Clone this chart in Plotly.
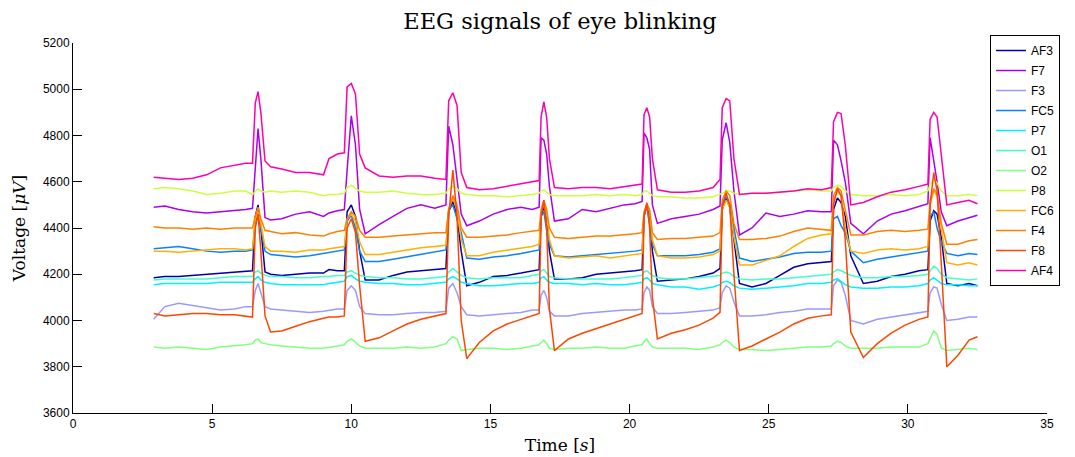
import plotly.graph_objects as go

# ---------------- data ----------------
time_s = [2.9, 3.3, 3.8, 4.3, 4.8, 5.3, 5.8, 6.2, 6.45,
          6.55, 6.65, 6.75, 6.9, 7.1,
          7.5, 8.0, 8.5, 9.0, 9.2, 9.5, 9.75,
          9.85, 10.0, 10.15, 10.3, 10.5,
          11.0, 11.5, 12.0, 12.5, 13.0, 13.4,
          13.5, 13.65, 13.8, 13.95, 14.15,
          14.6, 15.1, 15.6, 16.1, 16.5, 16.75,
          16.82, 16.92, 17.02, 17.12, 17.3,
          17.8, 18.3, 18.8, 19.3, 19.8, 20.2, 20.45,
          20.52, 20.62, 20.72, 20.82, 21.0,
          21.5, 22.0, 22.5, 23.0, 23.25,
          23.33, 23.47, 23.6, 23.75, 23.95,
          24.4, 24.9, 25.4, 25.9, 26.4, 26.9, 27.25,
          27.33, 27.47, 27.6, 27.75, 27.95,
          28.4, 28.9, 29.4, 29.9, 30.4, 30.72,
          30.8, 30.93, 31.05, 31.2, 31.4,
          31.8, 32.2, 32.5]

AF3 = [4185, 4190, 4190, 4195, 4200, 4205, 4210, 4215, 4215,
       4450, 4500, 4400, 4210, 4200,
       4195, 4200, 4205, 4205, 4220, 4215, 4215,
       4470, 4500, 4450, 4300, 4175,
       4175, 4195, 4210, 4215, 4220, 4225,
       4470, 4515, 4450, 4300, 4150,
       4165, 4190, 4195, 4205, 4215, 4220,
       4450, 4490, 4450, 4300, 4180,
       4180, 4185, 4200, 4205, 4210, 4215, 4220,
       4450, 4500, 4450, 4300, 4170,
       4175, 4180, 4190, 4205, 4225,
       4480, 4530, 4490, 4350, 4160,
       4145, 4160, 4195, 4230, 4245, 4250, 4255,
       4480, 4530, 4510, 4450, 4280,
       4160, 4170, 4190, 4200, 4215, 4220,
       4430, 4475, 4460, 4360, 4160,
       4150, 4160, 4150]

F7 = [4490, 4495, 4480, 4470, 4465, 4470, 4475, 4480, 4485,
      4650, 4830, 4700, 4445, 4435,
      4440, 4460, 4470, 4450, 4465, 4475, 4480,
      4650, 4885, 4760, 4480, 4375,
      4415, 4450, 4485, 4500, 4485, 4500,
      4840, 4760, 4600, 4460, 4410,
      4430, 4460, 4480, 4490, 4480, 4490,
      4790, 4780, 4720, 4580, 4430,
      4440, 4480, 4470, 4485, 4500, 4505, 4515,
      4810, 4790, 4740, 4500, 4420,
      4440, 4450, 4460, 4480, 4495,
      4780, 4855, 4770, 4560, 4370,
      4400, 4465, 4450, 4460, 4475, 4470, 4470,
      4780, 4760, 4690, 4600, 4420,
      4375, 4430, 4460, 4475, 4495, 4505,
      4790, 4700, 4600, 4470, 4410,
      4430, 4445, 4455]

F3 = [4005, 4060, 4075, 4065, 4055, 4045, 4050, 4060, 4060,
      4130, 4160, 4120, 4060, 4050,
      4045, 4040, 4035, 4040, 4045, 4050, 4050,
      4130, 4150, 4130, 4060, 4030,
      4025, 4025, 4030, 4035, 4035, 4040,
      4140, 4160, 4120, 4060, 4025,
      4020, 4025, 4030, 4035, 4045, 4045,
      4110, 4130, 4100, 4040, 4020,
      4020, 4030, 4035, 4040, 4045, 4045, 4050,
      4120, 4145, 4130, 4060, 4030,
      4030, 4035, 4040, 4045, 4055,
      4120, 4150, 4140, 4080, 4020,
      4020, 4025, 4035, 4040, 4050, 4050, 4050,
      4150, 4175, 4165, 4110, 4000,
      3985, 4005, 4015, 4025, 4035, 4040,
      4120, 4145, 4140, 4070, 4000,
      4005, 4015, 4015]

FC5 = [4310, 4315, 4320, 4310, 4300, 4295, 4300, 4300, 4305,
       4420, 4460, 4400, 4300, 4285,
       4280, 4275, 4280, 4290, 4295, 4300, 4305,
       4430, 4455, 4400, 4300, 4255,
       4255, 4265, 4275, 4285, 4295, 4305,
       4480, 4500, 4440, 4380, 4270,
       4265, 4275, 4280, 4290, 4300, 4305,
       4450, 4470, 4390, 4330, 4280,
       4275, 4280, 4285, 4290, 4295, 4300, 4305,
       4460, 4490, 4420, 4330, 4280,
       4280, 4280, 4285, 4295, 4310,
       4500, 4535, 4500, 4400, 4270,
       4255, 4265, 4275, 4290, 4295, 4295, 4300,
       4440, 4450, 4410, 4380, 4300,
       4250, 4265, 4275, 4285, 4295, 4300,
       4450, 4470, 4400, 4340, 4290,
       4280, 4290, 4285]

P7 = [4155, 4160, 4160, 4160, 4160, 4165, 4165, 4165, 4165,
      4180, 4190, 4175, 4165, 4160,
      4155, 4155, 4155, 4155, 4160, 4165, 4170,
      4190, 4195, 4180, 4170, 4165,
      4160, 4160, 4155, 4155, 4160, 4165,
      4180, 4190, 4180, 4165, 4160,
      4150, 4150, 4155, 4160, 4160, 4165,
      4185, 4190, 4175, 4165, 4160,
      4160, 4155, 4160, 4155, 4155, 4160, 4165,
      4180, 4185, 4175, 4160, 4155,
      4145, 4145, 4135, 4145, 4155,
      4165, 4170, 4165, 4150, 4140,
      4135, 4140, 4145, 4150, 4160, 4160, 4165,
      4175, 4180, 4170, 4155, 4145,
      4140, 4140, 4145, 4145, 4150, 4160,
      4175, 4185, 4175, 4160, 4155,
      4155, 4150, 4150]

O1 = [4175, 4180, 4180, 4180, 4180, 4185, 4190, 4190, 4190,
      4210, 4215, 4205, 4195, 4190,
      4190, 4185, 4185, 4190, 4190, 4195, 4195,
      4210, 4215, 4205, 4195, 4190,
      4185, 4185, 4180, 4180, 4185, 4190,
      4210, 4225, 4210, 4195, 4185,
      4180, 4185, 4185, 4185, 4195, 4200,
      4215, 4220, 4205, 4190, 4185,
      4180, 4180, 4180, 4180, 4185, 4190, 4195,
      4210, 4215, 4205, 4195, 4185,
      4180, 4180, 4185, 4190, 4195,
      4205, 4210, 4205, 4190, 4180,
      4175, 4180, 4180, 4185, 4190, 4195, 4200,
      4210, 4220, 4215, 4205, 4195,
      4185, 4185, 4190, 4190, 4195, 4200,
      4215, 4235, 4225, 4200, 4185,
      4180, 4175, 4180]

O2 = [3885, 3880, 3885, 3880, 3875, 3885, 3890, 3895, 3900,
      3915, 3920, 3905, 3900, 3895,
      3890, 3885, 3880, 3880, 3885, 3890, 3895,
      3910, 3920, 3905, 3890, 3880,
      3880, 3880, 3885, 3880, 3885, 3900,
      3915, 3930, 3920, 3870, 3875,
      3880, 3880, 3875, 3880, 3890, 3895,
      3905, 3915, 3900, 3880, 3875,
      3880, 3880, 3885, 3880, 3880, 3890, 3895,
      3910, 3920, 3900, 3885, 3880,
      3880, 3880, 3875, 3885, 3895,
      3905, 3915, 3905, 3885, 3875,
      3875, 3870, 3875, 3880, 3885, 3885, 3890,
      3900, 3910, 3905, 3890, 3880,
      3880, 3880, 3885, 3885, 3885, 3900,
      3920, 3955, 3940, 3880, 3870,
      3875, 3880, 3875]

P8 = [4570, 4575, 4570, 4560, 4545, 4550, 4560, 4560, 4545,
      4560, 4570, 4560, 4555, 4560,
      4555, 4560, 4555, 4540, 4545, 4545, 4550,
      4575, 4585, 4570, 4560, 4555,
      4555, 4560, 4550, 4545, 4545, 4550,
      4570, 4580, 4570, 4550, 4545,
      4540, 4540, 4535, 4540, 4545, 4550,
      4560, 4565, 4555, 4545, 4540,
      4540, 4540, 4545, 4540, 4545, 4540, 4545,
      4560, 4560, 4550, 4540, 4535,
      4535, 4530, 4530, 4535, 4545,
      4550, 4560, 4560, 4550, 4545,
      4550, 4550, 4555, 4560, 4565, 4560, 4560,
      4575, 4585, 4580, 4560, 4545,
      4540, 4540, 4545, 4540, 4545, 4560,
      4590, 4610, 4595, 4560, 4540,
      4540, 4545, 4540]

FC6 = [4300, 4300, 4295, 4300, 4305, 4310, 4310, 4305, 4310,
       4440, 4470, 4420, 4320, 4300,
       4300, 4295, 4305, 4305, 4310, 4315, 4320,
       4440, 4460, 4430, 4340, 4285,
       4285, 4295, 4305, 4315, 4320, 4325,
       4480, 4530, 4480, 4350, 4280,
       4280, 4295, 4305, 4315, 4320, 4330,
       4470, 4500, 4460, 4350, 4280,
       4270, 4275, 4280, 4270, 4280, 4285, 4290,
       4460, 4500, 4470, 4350, 4280,
       4270, 4270, 4275, 4285, 4300,
       4480, 4520, 4490, 4360, 4240,
       4240, 4260, 4280, 4320, 4355, 4370, 4375,
       4520, 4560, 4540, 4400, 4300,
       4290, 4305, 4310, 4305, 4310, 4320,
       4500, 4560, 4540, 4400, 4250,
       4240, 4250, 4240]

F4 = [4405, 4400, 4400, 4395, 4400, 4395, 4400, 4400, 4400,
      4450, 4490, 4440, 4390, 4385,
      4375, 4380, 4370, 4365, 4375, 4385, 4390,
      4440, 4470, 4450, 4390, 4360,
      4360, 4365, 4370, 4375, 4380, 4380,
      4480, 4540, 4500, 4400, 4360,
      4360, 4365, 4370, 4380, 4385, 4390,
      4480, 4520, 4480, 4400, 4360,
      4355, 4360, 4365, 4365, 4370, 4375, 4380,
      4470, 4505, 4480, 4380, 4350,
      4355, 4355, 4360, 4365, 4380,
      4520, 4560, 4540, 4420, 4350,
      4350, 4355, 4365, 4385, 4400, 4395, 4390,
      4540, 4575, 4560, 4480, 4370,
      4370, 4385, 4390, 4385, 4390, 4395,
      4520, 4570, 4550, 4420, 4330,
      4330, 4345, 4350]

F8 = [4030, 4020, 4025, 4030, 4030, 4025, 4025, 4020, 4015,
      4400, 4460, 4300, 4020, 3950,
      3955, 3975, 3995, 4010, 4015, 4015, 4020,
      4400, 4440, 4380, 4150, 3910,
      3925, 3955, 3985, 4005, 4020, 4030,
      4450, 4650, 4450, 4000, 3835,
      3905, 3955, 3985, 4005, 4020, 4030,
      4450, 4520, 4400, 4050, 3870,
      3920, 3945, 3965, 3985, 4005, 4020, 4030,
      4450, 4510, 4400, 4100, 3920,
      3945, 3960, 3980, 4010, 4035,
      4500, 4550, 4500, 4200, 3870,
      3890, 3920, 3950, 3985, 4010, 4020, 4025,
      4500, 4570, 4540, 4350, 3950,
      3840, 3900, 3945, 3980, 4005, 4015,
      4500, 4640, 4560, 4250, 3800,
      3850, 3915, 3930]

AF4 = [4620, 4615, 4610, 4615, 4630, 4660, 4670, 4680, 4680,
       4940, 4990, 4900, 4690, 4665,
       4655, 4640, 4640, 4630, 4700, 4720, 4725,
       5010, 5025, 4980, 4720, 4660,
       4625, 4620, 4625, 4625, 4615, 4610,
       4950, 4985, 4930, 4640, 4575,
       4565, 4570, 4580, 4590, 4600, 4605,
       4880, 4945, 4880, 4700, 4575,
       4570, 4575, 4575, 4570, 4580, 4585, 4590,
       4890, 4920, 4880, 4700, 4565,
       4555, 4555, 4560, 4575, 4610,
       4920, 4960, 4950, 4700, 4545,
       4550, 4550, 4555, 4560, 4570, 4565, 4575,
       4860, 4900, 4895, 4760, 4500,
       4510, 4535, 4555, 4565, 4580, 4590,
       4870, 4900, 4880, 4720, 4500,
       4510, 4520, 4505]

channel_names = ["AF3", "F7", "F3", "FC5", "P7", "O1", "O2", "P8", "FC6", "F4", "F8", "AF4"]
channel_values = [AF3, F7, F3, FC5, P7, O1, O2, P8, FC6, F4, F8, AF4]
channel_colors = ["#0000A8", "#AA00F0", "#9999FF", "#0A80FF", "#00F0FF", "#40FFC8",
                  "#80FF80", "#CCFF40", "#FFB000", "#FF8000", "#FF4500", "#FF00AA"]

x_ticks = [0, 5, 10, 15, 20, 25, 30, 35]
y_ticks = [3600, 3800, 4000, 4200, 4400, 4600, 4800, 5000, 5200]

# ---------------- figure ----------------
fig = go.Figure()
for name, vals, col in zip(channel_names, channel_values, channel_colors):
    fig.add_trace(go.Scatter(x=time_s, y=vals, mode="lines", name=name,
                             legendgroup=name,
                             line=dict(color=col, width=1.5)))

serif = "DejaVu Serif"
fig.update_layout(
    width=1075, height=457,
    margin=dict(l=73, r=28, t=43, b=44, autoexpand=False),
    paper_bgcolor="white", plot_bgcolor="white",
    font=dict(family="Liberation Sans, Arial, sans-serif", size=12, color="black"),
    title=dict(text="EEG signals of eye blinking", x=0.5, xref="paper",
               y=1 - 21 / 457, yref="container", yanchor="middle", xanchor="center",
               font=dict(family=serif, size=22.5, color="black")),
    showlegend=True,
    legend=dict(x=0.9415, y=1.0216, xanchor="left", yanchor="top",
                bgcolor="white", bordercolor="black", borderwidth=1,
                maxheight=400, tracegroupgap=1,
                font=dict(size=12, color="black")),
    xaxis=dict(range=[0, 35], tickvals=x_ticks, ticks="inside", ticklen=9,
               tickcolor="black", showline=True, linecolor="black", linewidth=1,
               showgrid=False, zeroline=False, automargin=False,
               title=dict(text="Time [<i>s</i>]", standoff=8,
                          font=dict(family=serif, size=17, color="black"))),
    yaxis=dict(range=[3600, 5200], tickvals=y_ticks, ticks="inside", ticklen=9,
               tickcolor="black", showline=True, linecolor="black", linewidth=1,
               showgrid=False, zeroline=False, automargin=False,
               title=dict(text="Voltage [<i>μV</i>]", standoff=12,
                          font=dict(family=serif, size=17, color="black"))),
)

fig.write_html("out.html")
